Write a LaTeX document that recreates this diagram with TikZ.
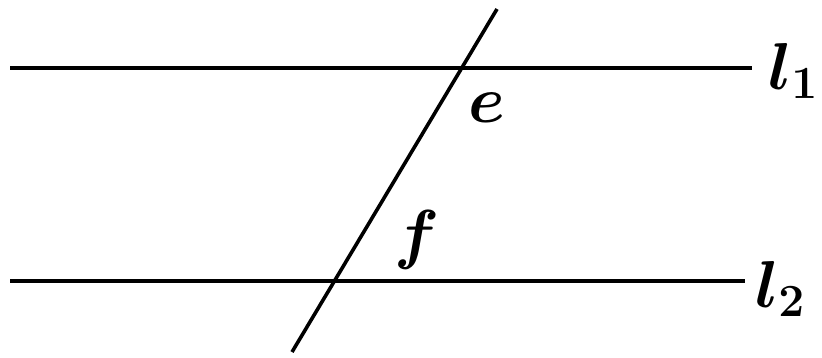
\documentclass[tikz,border=0pt]{standalone}
\usepackage{fontspec}
\setmainfont{Liberation Serif}
\newcommand{\biglab}[1]{\scalebox{3.2}{\fontsize{20}{20}\selectfont\boldmath$#1$}}
\begin{document}
\begin{tikzpicture}[x=1pt,y=-1pt,
  ln/.style={line width=3.6pt},
  lab/.style={inner sep=0pt}]
\useasboundingbox (0,0) rectangle (822,357);
\coordinate (a1) at (10,68);
\coordinate (b1) at (752,68);
\coordinate (a2) at (10,281);
\coordinate (b2) at (745,281);
\coordinate (t1) at (497,9);
\coordinate (t2) at (292,352);
\draw[ln] (a1) -- (b1);
\draw[ln] (a2) -- (b2);
\draw[ln] (t1) -- (t2);
\node[lab,anchor=base] (e) at (487,122) {\biglab{e}};
\node[lab,anchor=base] (f) at (417,256) {\biglab{f}};
\node[lab,anchor=base west] (l1) at (768,89) {\biglab{l_1}};
\node[lab,anchor=base west] (l2) at (755,307) {\biglab{l_2}};
\end{tikzpicture}
\end{document}
